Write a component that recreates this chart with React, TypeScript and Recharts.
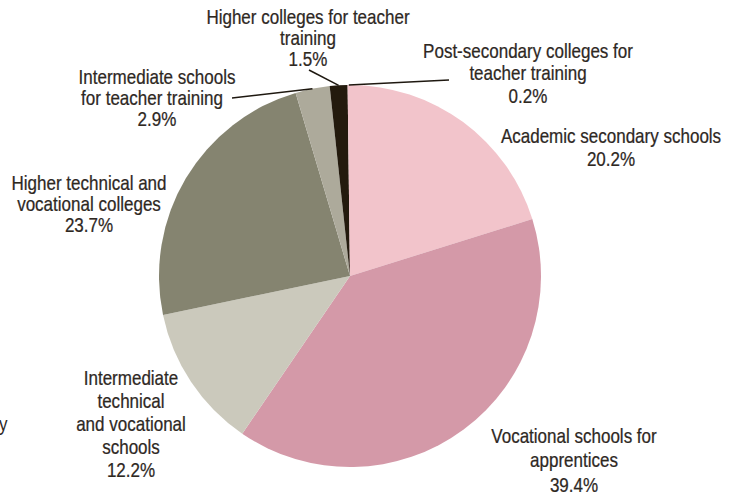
import React from "react";
import { PieChart, Pie, Cell } from "recharts";

const categories = [
  "Academic secondary schools",
  "Vocational schools for apprentices",
  "Intermediate technical and vocational schools",
  "Higher technical and vocational colleges",
  "Intermediate schools for teacher training",
  "Higher colleges for teacher training",
  "Post-secondary colleges for teacher training",
];
const shares = [20.2, 39.4, 12.2, 23.7, 2.9, 1.5, 0.2];
const labelLines = [
  ["Academic secondary schools", "20.2%"],
  ["Vocational schools for", "apprentices", "39.4%"],
  ["Intermediate", "technical", "and vocational", "schools", "12.2%"],
  ["Higher technical and", "vocational colleges", "23.7%"],
  ["Intermediate schools", "for teacher training", "2.9%"],
  ["Higher colleges for teacher", "training", "1.5%"],
  ["Post-secondary colleges for", "teacher training", "0.2%"],
];

const COLORS = ["#F2C4CB", "#D499A8", "#CBC9BC", "#858470", "#ADAA9B", "#231A0D", "#F2C4CB"];
const TEXT = "#2E281F";
const FONT = "'Liberation Sans', Arial, sans-serif";
const SX = 0.83;

// label layout relative to pie centre: text block centre x, first line centre y, line height, leader end
const LAYOUT = [
  { dx: 261, dy: -141, lh: 23 },
  { dx: 224, dy: 159, lh: 24.5 },
  { dx: -219, dy: 101, lh: 23 },
  { dx: -261, dy: -94, lh: 21 },
  { dx: -193, dy: -200, lh: 21, lead: [-118, -178], shift: [0, -5, 0] },
  { dx: -42, dy: -260, lh: 21, lead: [-41, -206] },
  { dx: 178, dy: -226, lh: 22.5, lead: [99, -196] },
];

const data = categories.map((name, i) => ({ name, value: shares[i] }));

const RAD = Math.PI / 180;

const renderLabel = (props: any) => {
  const { cx, cy, midAngle, outerRadius, index } = props;
  const L = LAYOUT[index];
  const lines = labelLines[index];
  const ex = cx + outerRadius * Math.cos(-midAngle * RAD);
  const ey = cy + outerRadius * Math.sin(-midAngle * RAD);
  return (
    <g key={`lbl-${index}`}>
      {L.lead && (
        <line x1={ex} y1={ey} x2={cx + L.lead[0]} y2={cy + L.lead[1]} stroke="#1E1810" strokeWidth={1.5} />
      )}
      <g transform={`translate(${cx + L.dx},${cy + L.dy}) scale(${SX},1)`}>
        <text
          x={0}
          y={0}
          textAnchor="middle"
          dominantBaseline="central"
          fill={TEXT}
          stroke={TEXT}
          strokeWidth={0.25}
          style={{ fontFamily: FONT, fontSize: 20.5 }}
        >
          {lines.map((t, j) => (
            <tspan key={j} x={(L.shift ? L.shift[j] || 0 : 0) / SX} y={j * L.lh}>
              {t}
            </tspan>
          ))}
        </text>
      </g>
    </g>
  );
};

export default function App() {
  return (
    <div style={{ position: "absolute", left: 0, top: 0, width: 738, height: 496, background: "#fff" }}>
      <PieChart width={738} height={496} margin={{ top: 0, right: 0, bottom: 0, left: 0 }}>
        <Pie
          data={data}
          dataKey="value"
          nameKey="name"
          cx={350}
          cy={276}
          outerRadius={191}
          startAngle={90}
          endAngle={-270}
          stroke="none"
          isAnimationActive={false}
          labelLine={false}
          label={renderLabel}
        >
          {data.map((d, i) => (
            <Cell key={d.name} fill={COLORS[i]} />
          ))}
        </Pie>
      </PieChart>
      <div
        style={{
          position: "absolute",
          left: -1,
          top: 412,
          fontFamily: FONT,
          fontSize: 20.5,
          color: TEXT,
          transform: `scale(${SX},1)`,
          transformOrigin: "0 0",
        }}
      >
        y
      </div>
    </div>
  );
}
